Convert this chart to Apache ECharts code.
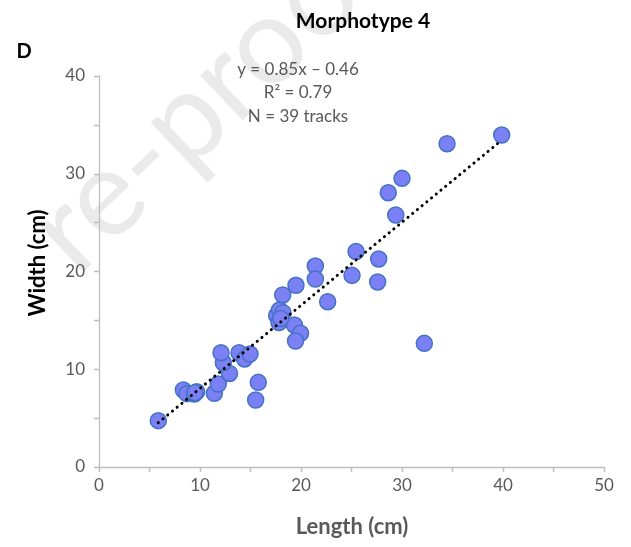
<!DOCTYPE html>
<html><head><meta charset="utf-8">
<script src="https://cdn.jsdelivr.net/npm/echarts@6/dist/echarts.min.js"></script>
<style>html,body{margin:0;padding:0;background:#fff}#c{width:631px;height:547px}</style>
</head><body><div id="c"></div>
<script>
var lengthCm = [5.87, 8.35, 8.7, 9.44, 9.67, 11.42, 11.81, 12.92, 12.31, 12.08, 13.86, 14.41, 14.95, 15.77, 15.51,
  17.59, 17.82, 17.87, 18.22, 18.19, 19.34, 19.95, 19.46, 19.50, 21.42, 21.42, 22.64, 25.05, 25.45, 27.59, 27.69,
  29.38, 28.64, 30.0, 32.21, 34.46, 39.87, 18.0, 9.5];
var widthCm = [4.74, 7.88, 7.5, 7.47, 7.70, 7.54, 8.49, 9.57, 10.67, 11.69, 11.69, 11.05, 11.56, 8.66, 6.85,
  15.50, 14.78, 16.06, 15.78, 17.60, 14.53, 13.68, 12.89, 18.59, 20.56, 19.23, 16.91, 19.61, 22.05, 18.93, 21.28,
  25.78, 28.06, 29.53, 12.65, 33.07, 33.96, 15.2, 7.6];
var slope = 0.85, intercept = -0.46;
var trendX = [5.87, 39.5];
var xTicks = [0, 10, 20, 30, 40, 50];
var yTicks = [0, 10, 20, 30, 40];
var eqLines = ['y = 0.85x \u2013 0.46', 'R\u00b2 = 0.79', 'N = 39 tracks'];

var pts = lengthCm.map(function (x, i) { return [x, widthCm[i]]; });
var trend = trendX.map(function (x) { return [x, slope * x + intercept]; });
var FONT = 'Lato, "Open Sans", sans-serif';
var grey = '#595959', axisGrey = '#bfbfbf';
function lab(v, arr) { return arr.indexOf(v) >= 0 ? String(v) : ''; }

var chart = echarts.init(document.getElementById('c'), null, { renderer: 'canvas' });
var baseX = { type: 'value', min: 0, max: 50, interval: 5, gridIndex: 0, splitLine: { show: false } };
var baseY = { type: 'value', min: 0, max: 40, interval: 5, gridIndex: 0, splitLine: { show: false } };
chart.setOption({
  animation: false,
  backgroundColor: '#fff',
  graphic: [
    { type: 'text', z: -10, x: 8, y: 205, rotation: 0.76,
      style: { text: 're-proof', font: '122px ' + FONT, fill: '#eaeaea' } },
    { type: 'text', x: 24, y: 52, style: { text: 'D', font: 'bold 20px ' + FONT, fill: '#000', align: 'center', verticalAlign: 'middle' } },
    { type: 'text', x: 298, y: 70, style: { text: eqLines[0], font: '17px ' + FONT, fill: grey, align: 'center', verticalAlign: 'middle' } },
    { type: 'text', x: 298, y: 93, style: { text: eqLines[1], font: '17px ' + FONT, fill: grey, align: 'center', verticalAlign: 'middle' } },
    { type: 'text', x: 298, y: 117, style: { text: eqLines[2], font: '17px ' + FONT, fill: grey, align: 'center', verticalAlign: 'middle' } },
    { type: 'text', x: 38, y: 263, rotation: Math.PI / 2,
      style: { text: 'Width (cm)', font: 'bold 22px ' + FONT, fill: '#000', align: 'center', verticalAlign: 'middle' } },
    { type: 'text', x: 352, y: 527,
      style: { text: 'Length (cm)', font: 'bold 22px ' + FONT, fill: grey, align: 'center', verticalAlign: 'middle' } }
  ],
  title: { text: 'Morphotype 4', left: 358, top: 6, textAlign: 'center',
    textStyle: { fontFamily: FONT, fontWeight: 'bold', fontSize: 21, color: '#000' } },
  grid: { left: 99, right: 27, top: 76, bottom: 80, containLabel: false },
  xAxis: [
    Object.assign({}, baseX, {
      axisLine: { lineStyle: { color: axisGrey, width: 1.3 } },
      axisTick: { inside: false, length: 5, lineStyle: { color: axisGrey, width: 1.3 } },
      axisLabel: { margin: 10, fontFamily: FONT, fontSize: 17, color: grey, formatter: function (v) { return lab(v, xTicks); } }
    }),
    Object.assign({}, baseX, {
      axisLine: { show: false }, axisLabel: { show: false },
      axisTick: { inside: true, length: 5, lineStyle: { color: axisGrey, width: 1.3 } }
    })
  ],
  yAxis: [
    Object.assign({}, baseY, {
      axisLine: { lineStyle: { color: axisGrey, width: 1.3 } },
      axisTick: { inside: false, length: 5, lineStyle: { color: axisGrey, width: 1.3 } },
      axisLabel: { margin: 14, fontFamily: FONT, fontSize: 17, color: grey, formatter: function (v) { return lab(v, yTicks); } }
    }),
    Object.assign({}, baseY, {
      axisLine: { show: false }, axisLabel: { show: false },
      axisTick: { inside: true, length: 5, lineStyle: { color: axisGrey, width: 1.3 } }
    })
  ],
  series: [
    { type: 'line', data: trend, xAxisIndex: 0, yAxisIndex: 0, symbol: 'none', z: 3,
      lineStyle: { color: '#000', width: 3, type: [0.1, 6], cap: 'round' } },
    { type: 'scatter', data: pts, xAxisIndex: 0, yAxisIndex: 0, symbol: 'circle', symbolSize: 16, z: 2,
      itemStyle: { color: '#7b80f5', borderColor: '#4472c4', borderWidth: 1.5, opacity: 1 } }
  ]
});
</script></body></html>
